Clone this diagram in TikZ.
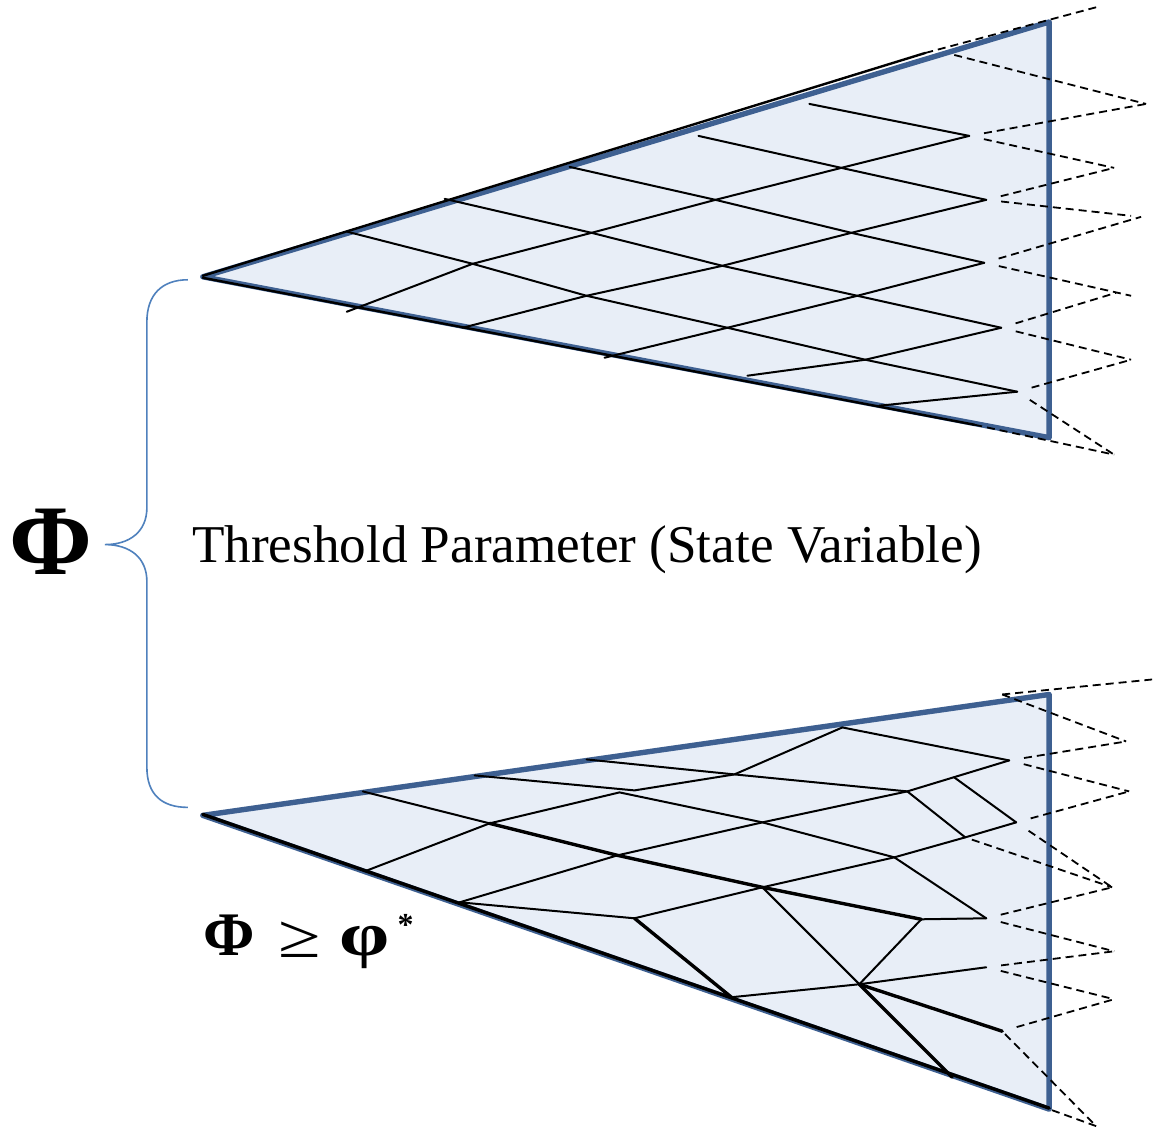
\documentclass[tikz,border=0pt]{standalone}
\usepackage{fontspec}
\setmainfont{Liberation Serif}
\definecolor{edgeblue}{RGB}{62,96,145}
\definecolor{fillblue}{RGB}{232,238,247}
\definecolor{braceblue}{RGB}{79,129,189}
\begin{document}
\begin{tikzpicture}[x=1pt,y=-1pt,
  tri/.style={draw=edgeblue, fill=fillblue, line width=5.4pt, line join=round},
  lat/.style={black, line width=2pt, line cap=round, line join=round},
  latthick/.style={black, line width=3.4pt, line cap=round, line join=round},
  dline/.style={black, line width=1.8pt, dash pattern=on 8pt off 5pt},
  gap/.style={shorten <=15pt},
  bracestyle/.style={draw=braceblue, line width=1.6pt},
  lbl/.style={inner sep=0pt, text=black}]
\path[fill=white] (0,0) rectangle (1153,1128);
% ---------------- top triangle ----------------
\coordinate (tA) at (203,277);
\coordinate (tB) at (1050,22);
\coordinate (tC) at (1050,438);
\coordinate (tA1) at (203,276);
\coordinate (tTop) at (926,53);
\coordinate (tA2) at (203,278);
\coordinate (tBe) at (975,425);
\coordinate (D1s) at (348,232);
\coordinate (D2s) at (445,199);
\coordinate (D3s) at (570,167);
\coordinate (D4s) at (699,136);
\coordinate (D5s) at (810,104);
\coordinate (D6s) at (955,55);
\coordinate (U1s) at (347,312);
\coordinate (U2s) at (463,328);
\coordinate (U3s) at (605,358);
\coordinate (U4s) at (748,376);
\coordinate (U5s) at (880,406);
\coordinate (n11) at (473,264);
\coordinate (n21) at (592,233);
\coordinate (n31) at (716,200);
\coordinate (n41) at (842,168);
\coordinate (n51) at (970,136);
\coordinate (n12) at (587,296);
\coordinate (n22) at (723,266);
\coordinate (n32) at (852,233);
\coordinate (n42) at (987,200);
\coordinate (n13) at (728,328);
\coordinate (n23) at (858,296);
\coordinate (n33) at (985,263);
\coordinate (n14) at (866,360);
\coordinate (n24) at (1002,328);
\coordinate (n15) at (1018,392);
\coordinate (pk0) at (1098,7);
\coordinate (pk1) at (1147,104);
\coordinate (pk2) at (1115,168);
\coordinate (pk3a) at (1132,216);
\coordinate (pk3b) at (1142,217);
\coordinate (pk4a) at (1132,296);
\coordinate (pk4b) at (1117,293);
\coordinate (pk5) at (1132,360);
\coordinate (pk6) at (1115,455);

\draw[tri] (tA) -- (tB) -- (tC) -- cycle;
\draw[lat, line width=2.4pt] (tA1) -- (tTop);
\draw[lat, line width=2.4pt] (tA2) -- (tBe);
\draw[lat] (D1s) -- (n11) -- (n12) -- (n13) -- (n14) -- (n15);
\draw[lat] (D2s) -- (n21) -- (n22) -- (n23) -- (n24);
\draw[lat] (D3s) -- (n31) -- (n32) -- (n33);
\draw[lat] (D4s) -- (n41) -- (n42);
\draw[lat] (D5s) -- (n51);
\draw[lat] (U1s) -- (n11) -- (n21) -- (n31) -- (n41) -- (n51);
\draw[lat] (U2s) -- (n12) -- (n22) -- (n32) -- (n42);
\draw[lat] (U3s) -- (n13) -- (n23) -- (n33);
\draw[lat] (U4s) -- (n14) -- (n24);
\draw[lat] (U5s) -- (n15);
\draw[dline] (tTop) -- (pk0);
\draw[dline] (D6s) -- (pk1);
\draw[dline, gap] (n51) -- (pk1);
\draw[dline, gap] (n51) -- (pk2);
\draw[dline, gap] (n42) -- (pk2);
\draw[dline, gap] (n42) -- (pk3a);
\draw[dline, gap] (n33) -- (pk3b);
\draw[dline, gap] (n33) -- (pk4a);
\draw[dline, gap] (n24) -- (pk4b);
\draw[dline, gap] (n24) -- (pk5);
\draw[dline, gap] (n15) -- (pk5);
\draw[dline, gap] (n15) -- (pk6);
\draw[dline] (tBe) -- (pk6);

% ---------------- bottom triangle ----------------
\coordinate (bA) at (203,816);
\coordinate (bB) at (1050,695);
\coordinate (bC) at (1050,1110);
\coordinate (bA1) at (203,815);
\coordinate (bC1) at (1050,1109);
\coordinate (T1) at (363,792);
\coordinate (T2) at (475,776);
\coordinate (T3) at (587,760);
\coordinate (B1) at (365,872);
\coordinate (B2) at (460,903);
\coordinate (B3) at (732,998);
\coordinate (B4) at (953,1078);
\coordinate (N1) at (490,824);
\coordinate (Nd) at (620,793);
\coordinate (Nb) at (635,791);
\coordinate (N3) at (735,775);
\coordinate (N4) at (843,728);
\coordinate (N5) at (618,856);
\coordinate (N6) at (763,823);
\coordinate (N7) at (908,792);
\coordinate (N8) at (635,919);
\coordinate (N9) at (763,888);
\coordinate (N10) at (895,858);
\coordinate (N11) at (860,985);
\coordinate (N12) at (922,920);
\coordinate (N13) at (987,919);
\coordinate (N14) at (987,968);
\coordinate (N15) at (1003,1032);
\coordinate (N16) at (955,778);
\coordinate (N17) at (966,838);
\coordinate (V1) at (1010,761);
\coordinate (V2) at (1017,823);
\coordinate (Q0) at (1003,695);
\coordinate (P0) at (1153,680);
\coordinate (P1) at (1127,742);
\coordinate (P2) at (1130,792);
\coordinate (P3) at (1113,888);
\coordinate (P4) at (1115,952);
\coordinate (P5) at (1115,1000);
\coordinate (P6) at (1097,1127);

\draw[tri] (bA) -- (bB) -- (bC) -- cycle;
\draw[latthick] (bA1) -- (bC1);
\draw[lat] (T1) -- (N1);
\draw[latthick] (N1) -- (N5) -- (N9) -- (N12);
\draw[lat] (N12) -- (N13);
\draw[lat] (B1) -- (N1) -- (Nd) -- (N6) -- (N10) -- (N13);
\draw[lat] (T2) -- (Nb) -- (N3) -- (N4) -- (V1);
\draw[lat] (T3) -- (N3) -- (N7) -- (V1);
\draw[lat] (N7) -- (N17);
\draw[lat] (N16) -- (V2);
\draw[lat] (B2) -- (N5) -- (N6) -- (N7);
\draw[lat] (B2) -- (N8) -- (N9) -- (N10) -- (N17) -- (V2);
\draw[latthick] (N8) -- (B3);
\draw[lat] (B3) -- (N11) -- (N14);
\draw[lat] (N9) -- (N11);
\draw[latthick] (N11) -- (B4);
\draw[lat] (N11) -- (N12);
\draw[latthick] (N11) -- (N15);
\draw[dline] (Q0) -- (P0);
\draw[dline] (Q0) -- (P1);
\draw[dline, gap] (V1) -- (P1);
\draw[dline, gap] (V1) -- (P2);
\draw[dline, gap] (V2) -- (P2);
\draw[dline, gap] (V2) -- (P3);
\draw[dline, shorten <=7pt] (N17) -- (P3);
\draw[dline, gap] (N13) -- (P3);
\draw[dline, gap] (N13) -- (P4);
\draw[dline, gap] (N14) -- (P4);
\draw[dline, gap] (N14) -- (P5);
\draw[dline, gap] (N15) -- (P5);
\draw[dline, shorten <=4pt] (N15) -- (P6);
\draw[dline, shorten <=3pt] (bC) -- (P6);

% ---------------- brace and labels ----------------
\coordinate (brT) at (188,280);
\coordinate (brM) at (105,545);
\coordinate (brB) at (188,808);
\draw[bracestyle] (brT) .. controls (162,280) and (147,295) .. (147,322)
  -- (147,508) .. controls (147,532) and (130,545) .. (brM)
  .. controls (130,545) and (147,558) .. (147,582)
  -- (147,768) .. controls (147,795) and (162,808) .. (brB);
\node[lbl, anchor=base, font=\fontsize{100}{104}\selectfont\bfseries] (bigphi) at (51,575) {Φ};
\node[lbl, anchor=base west, font=\fontsize{53.2}{60}\selectfont] (title) at (192,563) {Threshold Parameter (State Variable)};
\node[lbl, anchor=base, font=\fontsize{62}{66}\selectfont\bfseries] (fphi) at (229,956) {Φ};
\node[lbl, anchor=base, font=\fontsize{62}{66}\selectfont] (fge) at (300,958) {\scalebox{1.25}[1]{≥}};
\node[lbl, anchor=base, font=\fontsize{62}{66}\selectfont\bfseries] (fvarphi) at (365,956) {\scalebox{1.3}[1]{φ}};
\node[lbl, anchor=base, font=\fontsize{32}{34}\selectfont\bfseries] (fstar) at (406,936) {*};
\end{tikzpicture}
\end{document}
